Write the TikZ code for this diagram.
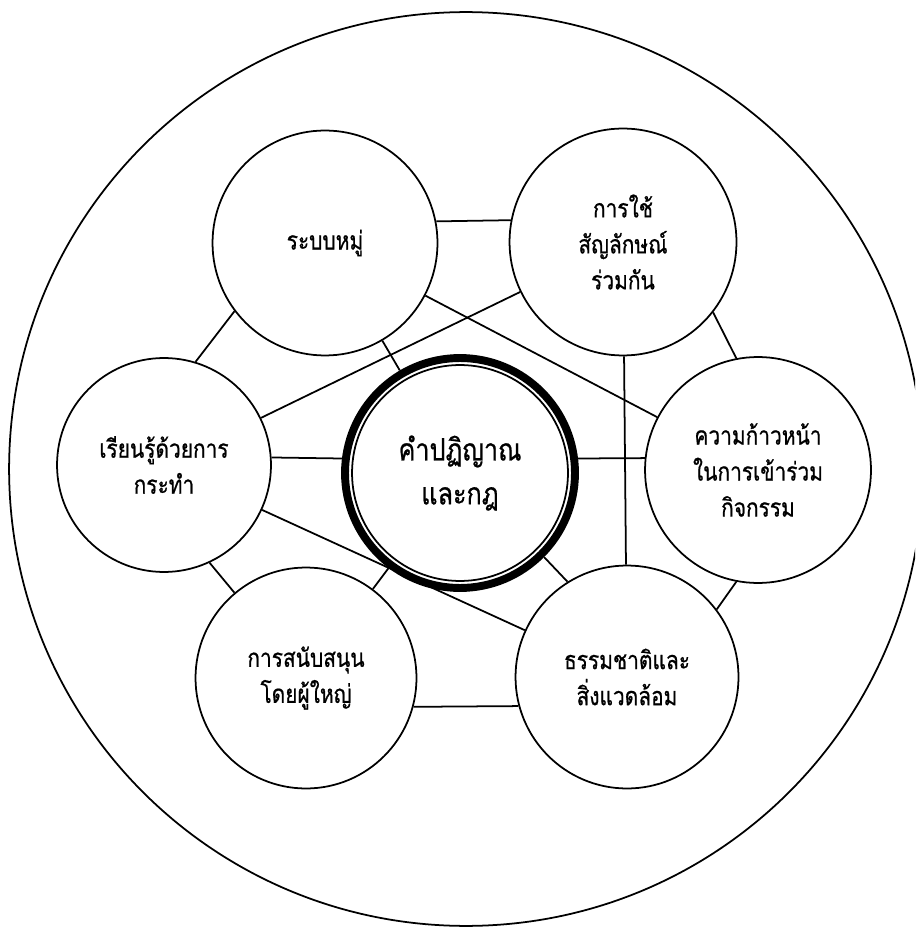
\documentclass[tikz,border=0pt]{standalone}
\usepackage{fontspec}
\usepackage{tikz}
\newfontfamily\thaifont[Script=Thai, FakeStretch=0.82, FakeBold=0.7]{Loma}

\begin{document}
\begin{tikzpicture}[
    x=0.02cm, y=-0.02cm,
    idea/.style={circle, draw, line width=1pt, align=center, inner sep=0pt, font=\thaifont\fontsize{14.5}{20.5}\selectfont},
    core/.style={circle, inner sep=0pt, outer sep=0pt, minimum size=4.76cm, align=center, font=\thaifont\fontsize{17.5}{25}\selectfont},
    link/.style={line width=1pt}
]
    \useasboundingbox (0,0) rectangle (915,928);
    \clip (0,0) rectangle (915,928);

    % Outer circle
    \draw[line width=1pt] (466,469) circle (9.14cm);

    % Center
    \node[core] (core) at (460,473) {คำปฏิญาณ\\และกฎ};
    \draw[line width=4.5pt] (core.center) circle (2.3cm);
    \draw[line width=1pt] (core.center) circle (2.16cm);

    % Surrounding ideas
    \node[idea, minimum size=4.5cm] (groupsys) at (325,243) {ระบบหมู่};
    \node[idea, minimum size=4.54cm] (symbol) at (623,242) {การใช้\\สัญลักษณ์\\ร่วมกัน};
    \node[idea, minimum size=4.52cm] (progress) at (758,470) {ความก้าวหน้า\\ในการเข้าร่วม\\กิจกรรม};
    \node[idea, minimum size=4.46cm] (nature) at (627,677) {ธรรมชาติและ\\สิ่งแวดล้อม};
    \node[idea, minimum size=4.42cm] (support) at (306,678) {การสนับสนุน\\โดยผู้ใหญ่};
    \node[idea, minimum size=4.28cm] (learning) at (164,465) {เรียนรู้ด้วยการ\\กระทำ};

    % Ring
    \draw[link] (groupsys.11) -- (symbol.169);
    \draw[link] (symbol.-38) -- (progress.101);
    \draw[link] (progress.259) -- (nature.37);
    \draw[link] (nature.195) -- (support.-15);
    \draw[link] (support.130) -- (learning.-65);
    \draw[link] (learning.73) -- (groupsys.217);

    % Spokes
    \draw[link] (groupsys) -- (core);
    \draw[link] (learning.4) -- (core.173);
    \draw[link] (core.7) -- (progress.174);
    \draw[link] (core.-45) -- (nature.122);
    \draw[link] (core) -- (support);

    % Cross lines
    \draw[link] (groupsys) -- (progress);
    \draw[link] (symbol) -- (learning);
    \draw[link] (learning) -- (nature);
    \draw[link] (symbol) -- (nature);
\end{tikzpicture}
\end{document}
